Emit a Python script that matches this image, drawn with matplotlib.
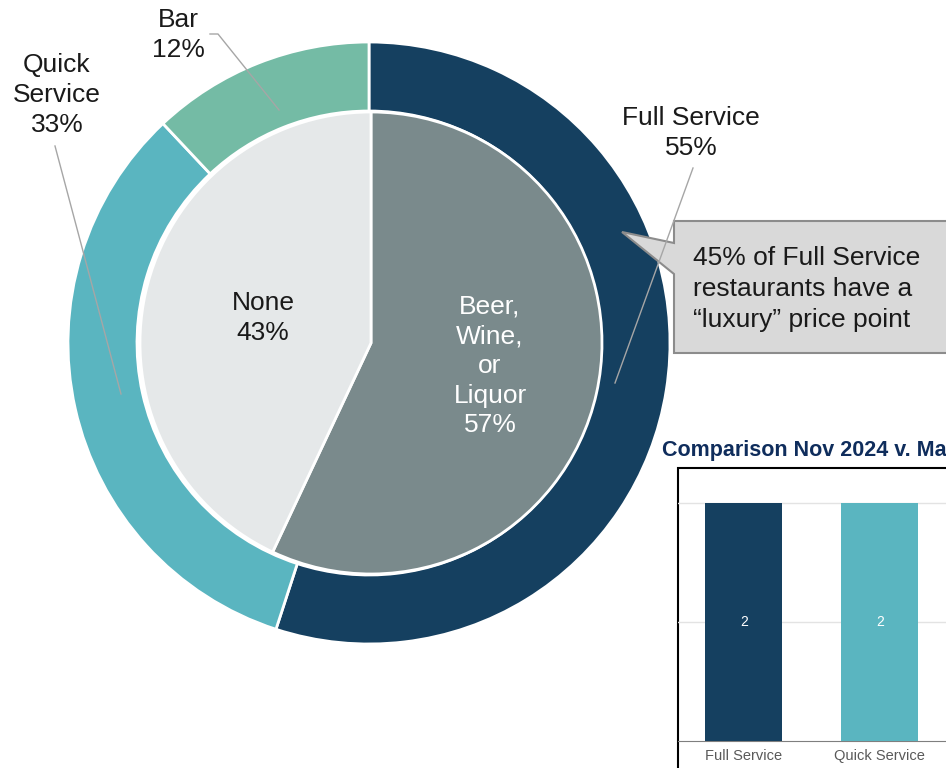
import matplotlib.pyplot as plt
from matplotlib.patches import Polygon, Rectangle

plt.rcParams["font.family"] = ["Liberation Sans", "DejaVu Sans"]

# outer ring: restaurant type
outer_labels = ["Full Service", "Quick Service", "Bar"]
outer_pct = [55, 33, 12]
outer_colors = ["#154060", "#5AB5C0", "#74BBA5"]

# inner pie: alcohol served
inner_labels = ["Beer,\nWine,\nor\nLiquor", "None"]
inner_pct = [57, 43]
inner_colors = ["#7A8A8C", "#E5E8E9"]

callout = "45% of Full Service\nrestaurants have a\n\u201cluxury\u201d price point"

# small comparison chart
bar_title = "Comparison Nov 2024 v. May 2024"
bar_cats = ["Full Service", "Quick Service"]
bar_vals = [2, 2]
bar_colors = ["#154060", "#5AB5C0"]

W, H = 946, 768
fig = plt.figure(figsize=(W / 100, H / 100), dpi=100)

# main axes works in pixel units, y measured from the top
ax = fig.add_axes([0, 0, 1, 1])


def P(x, y):
    return (x, H - y)


cx, cy = P(369, 343)
R_out = 301
ring_w = 69
R_in = 231

ax.pie(outer_pct, radius=R_out, center=(cx, cy), colors=outer_colors,
       startangle=90, counterclock=False,
       wedgeprops=dict(width=ring_w, edgecolor="white", linewidth=2))
ax.pie(inner_pct, radius=R_in, center=(cx + 2, cy), colors=inner_colors,
       startangle=90, counterclock=False,
       wedgeprops=dict(edgecolor="white", linewidth=2))
ax.set_xlim(0, W)
ax.set_ylim(0, H)
ax.set_aspect("equal")
ax.axis("off")

lab_kw = dict(fontsize=19, ha="center", va="center", linespacing=1.3, color="#1a1a1a")

# outer labels with leader lines
ax.text(*P(691, 133), f"{outer_labels[0]}\n{outer_pct[0]}%", **lab_kw)
ax.text(*P(57, 95), "Quick\nService\n" + f"{outer_pct[1]}%", **lab_kw)
ax.text(*P(178, 35), f"{outer_labels[2]}\n{outer_pct[2]}%", **lab_kw)

lead = dict(color="#A6A6A6", lw=1, zorder=6)
ax.plot(*zip(P(693, 168), P(615, 383)), **lead)
ax.plot(*zip(P(55, 146), P(121, 394)), **lead)
ax.plot(*zip(P(210, 34), P(218, 34), P(279, 110)), **lead)

# inner labels
ax.text(*P(263, 318), f"{inner_labels[1]}\n{inner_pct[1]}%", **lab_kw)
ax.text(*P(490, 366), f"{inner_labels[0]}\n{inner_pct[0]}%",
        **{**lab_kw, "color": "white"})

# callout box with pointer
box = [P(674, 221), P(960, 221), P(960, 353), P(674, 353),
       P(674, 274), P(622, 232), P(674, 243)]
ax.add_patch(Polygon(box, closed=True, facecolor="#D9D9D9",
                     edgecolor="#8C8C8C", lw=1.5, zorder=5))
ax.text(*P(693, 289), callout, fontsize=19, ha="left", va="center",
        linespacing=1.35, color="#1a1a1a", zorder=7)

# comparison chart border and title
ax.add_patch(Rectangle(P(678, 800), 400, 332, facecolor="white",
                       edgecolor="black", lw=1.5, zorder=3))
ax.text(*P(662, 456), bar_title, fontsize=15.5, fontweight="bold",
        color="#0F2D5C", ha="left", va="baseline")

bx = fig.add_axes([678 / W, 27.3 / H, 405.7 / W, 272.7 / H], zorder=4)
bx.patch.set_alpha(0)
bars = bx.bar(range(len(bar_cats)), bar_vals, width=0.566, color=bar_colors, zorder=3)
bx.bar_label(bars, label_type="center", color="white", fontsize=10)
bx.set_xlim(-0.483, 2.5)
bx.set_ylim(0, 2.29)
bx.set_yticks([1, 2])
bx.yaxis.grid(True, color="#E3E3E3", lw=1)
bx.tick_params(axis="y", left=False, labelleft=False)
bx.set_xticks(range(len(bar_cats)))
bx.set_xticklabels(bar_cats, fontsize=10.5, color="#595959")
bx.tick_params(axis="x", length=0, pad=6)
for side in ["top", "right", "left"]:
    bx.spines[side].set_visible(False)
bx.spines["bottom"].set_color("#7F7F7F")

fig.savefig("out.png", dpi=100)
